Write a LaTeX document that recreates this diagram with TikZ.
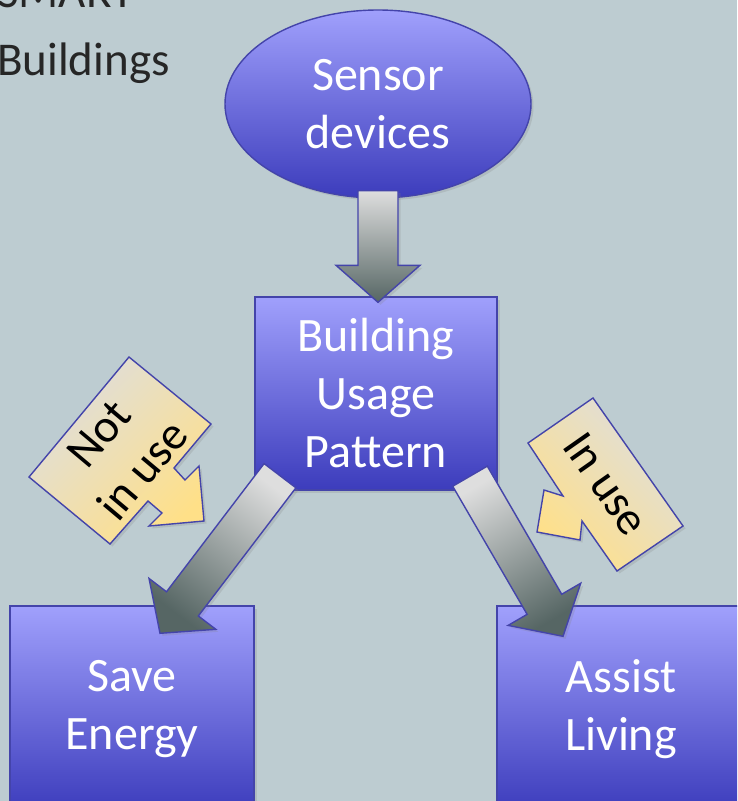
\documentclass[tikz,border=0pt]{standalone}
\usepackage{fontspec}
\setmainfont{Carlito}
\usetikzlibrary{shapes.geometric,calc,shadows}

\definecolor{bgc}{RGB}{189,204,209}
\definecolor{edgeblue}{RGB}{68,68,170}
\definecolor{boxtop}{RGB}{160,160,252}
\definecolor{boxbot}{RGB}{60,60,188}
\definecolor{arrtop}{RGB}{222,222,222}
\definecolor{arrbot}{RGB}{86,102,100}
\definecolor{calgray}{RGB}{222,222,222}
\definecolor{calyellow}{RGB}{255,224,136}
\definecolor{titlegray}{RGB}{38,38,38}

% block arrow from a tail point to a tip point
\newcommand{\blockarrow}[3][]{%
  \coordinate (#2-#3-h) at ($(#3)!37pt!(#2)$);
  \draw[arrowbody,#1]
    ($(#2)!20pt!90:(#3)$) -- ($(#2-#3-h)!20pt!90:(#3)$)
    -- ($(#2-#3-h)!42pt!90:(#3)$) -- (#3)
    -- ($(#2-#3-h)!42pt!-90:(#3)$) -- ($(#2-#3-h)!20pt!-90:(#3)$)
    -- ($(#2)!20pt!-90:(#3)$) -- cycle;}

\begin{document}
\begin{tikzpicture}[x=1pt,y=-1pt,
  bigfont/.style={font=\fontsize{48}{58}\selectfont},
  softshadow/.style={drop shadow={opacity=.22,shadow xshift=2.5pt,shadow yshift=-2.5pt}},
  bluebox/.style={draw=edgeblue, line width=1.4pt, top color=boxtop, bottom color=boxbot,
    text=white, align=center, bigfont, inner sep=0pt, softshadow},
  arrowbody/.style={draw=edgeblue, line width=1.4pt, line join=miter, top color=arrtop,
    bottom color=arrbot, softshadow},
  calloutbody/.style={draw=edgeblue, line width=1.4pt, softshadow},
  callouttext/.style={align=center, text=black, font=\fontsize{47}{57}\selectfont, inner sep=0pt},
  titletext/.style={anchor=base west, inner sep=0pt, text=titlegray, font=\fontsize{47}{68}\selectfont}]

\useasboundingbox (0,0) rectangle (737,801);
\clip (0,0) rectangle (737,801);
\fill[bgc] (0,0) rectangle (737,801);

% heading
\node[titletext] (smart) at (-3,7) {SMART};
\node[titletext] (bldg) at (-3,75) {Buildings};

% boxes
\node[bluebox, ellipse, minimum width=306pt, minimum height=188pt] (sensor) at (378,104) {Sensor\\devices};
\node[bluebox, minimum width=242pt, minimum height=193pt] (usage) at (376,393.5) {Building\\Usage\\Pattern};
\node[bluebox, minimum width=244pt, minimum height=206pt] (save) at (132,709) {Save\\Energy};
\node[bluebox, minimum width=248pt, minimum height=206pt] (assist) at (621,709) {Assist\\Living};

% arrow end points
\coordinate (dtail) at ($(sensor.south)+(0,-8)$);
\coordinate (dtip) at ($(usage.north)+(2,6)$);
\coordinate (ltail) at ($(usage.south)+(-96,-15)$);
\coordinate (ltip) at ($(save.north)+(28,28)$);
\coordinate (rtail) at ($(usage.south)+(94,-14.5)$);
\coordinate (rtip) at ($(assist.north)+(-58,31)$);

\blockarrow{dtail}{dtip}
\blockarrow[shading angle=-37]{ltail}{ltip}
\blockarrow[shading angle=30]{rtail}{rtip}

% callouts
\draw[calloutbody, top color=calgray, bottom color=calyellow, shading angle=45]
  (129,357) -- (211,424) -- (174,468) -- (185,480) -- (199,466) -- (204,521)
  -- (149,526) -- (162,513) -- (148,501) -- (110,544) -- (29,477) -- cycle;
\node[callouttext, rotate=50] (notuse) at (121,452) {Not\\in use};

\draw[calloutbody, top color=calgray, bottom color=calyellow, shading angle=-45]
  (528,443) -- (593,398) -- (683,526) -- (617,571) -- (582,521) -- (580,540)
  -- (537,532) -- (544,490) -- (563,496) -- cycle;
\node[callouttext, rotate=-55] (inuse) at (606,484) {In use};

\end{tikzpicture}
\end{document}
